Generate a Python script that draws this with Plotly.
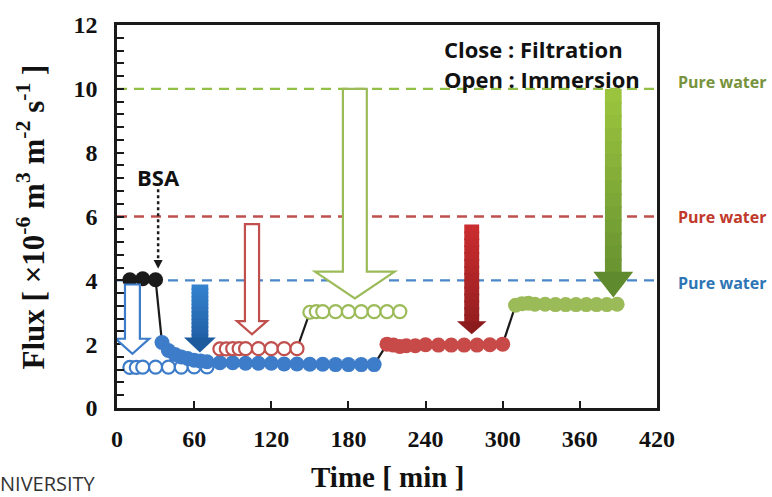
import plotly.graph_objects as go

# ---------------- data ----------------
black_t = [10, 20, 30]
black_f = [4.02, 4.05, 4.02]

blue_open_t = [10, 15, 20, 30, 40, 50, 60, 70]
blue_open_f = [1.27, 1.27, 1.28, 1.28, 1.28, 1.28, 1.29, 1.29]

blue_fill_t = [35, 40, 45, 50, 55, 60, 65, 70, 80, 90, 100, 110, 120, 130, 140, 150, 160, 170, 180, 190, 200]
blue_fill_f = [2.05, 1.8, 1.68, 1.6, 1.55, 1.5, 1.47, 1.45, 1.42, 1.42, 1.40, 1.40, 1.40, 1.38, 1.38, 1.37, 1.37, 1.36, 1.36, 1.36, 1.36]

red_open_t = [80, 85, 90, 95, 100, 110, 120, 130, 140]
red_open_f = [1.85, 1.85, 1.86, 1.86, 1.86, 1.86, 1.86, 1.86, 1.86]

red_fill_t = [210, 215, 220, 225, 232, 240, 250, 260, 270, 280, 290, 300]
red_fill_f = [2.0, 1.97, 1.93, 1.95, 1.95, 1.98, 1.97, 1.97, 1.97, 1.97, 1.98, 2.0]

green_open_t = [150, 155, 160, 170, 180, 190, 200, 210, 220]
green_open_f = [3.0, 3.02, 3.02, 3.02, 3.02, 3.02, 3.02, 3.02, 3.02]

green_fill_t = [310, 315, 320, 325, 333, 341, 349, 357, 365, 373, 381, 389]
green_fill_f = [3.22, 3.27, 3.28, 3.25, 3.25, 3.24, 3.24, 3.24, 3.24, 3.24, 3.24, 3.25]

pure_water_levels = [10, 6, 4]
pure_water_labels = ["Pure water", "Pure water", "Pure water"]

x_ticks = [0, 60, 120, 180, 240, 300, 360, 420]
y_ticks = [0, 2, 4, 6, 8, 10, 12]

# ---------------- styles ----------------
BLUE = "#3D7CC9"
RED = "#C0504D"
GREEN = "#9BBB59"
BLACK = "#1A1A1A"

L, R, T, B = 117, 115, 20, 89
W, H = 772, 497
PW, PH = W - L - R, H - T - B


def px2paper(px, py):
    return (px - L) / PW, (H - B - py) / PH


fig = go.Figure()

# black connecting lines between phases
segs = [
    (black_t[-1], black_f[-1], blue_fill_t[0], blue_fill_f[0]),
    (red_open_t[-1], red_open_f[-1], green_open_t[0], green_open_f[0]),
    (blue_fill_t[-1], blue_fill_f[-1], red_fill_t[0], red_fill_f[0]),
    (red_fill_t[-1], red_fill_f[-1], green_fill_t[0], green_fill_f[0]),
]
cx, cy = [], []
for a, b, c, d in segs:
    cx += [a, c, None]
    cy += [b, d, None]
fig.add_trace(go.Scatter(x=cx, y=cy, mode="lines", line=dict(color=BLACK, width=2.2),
                         hoverinfo="skip", showlegend=False))


def open_trace(t, f, color):
    return go.Scatter(x=t, y=f, mode="markers", showlegend=False,
                      marker=dict(symbol="circle", size=13, color="white",
                                  line=dict(color=color, width=2.2)))


def fill_trace(t, f, color):
    return go.Scatter(x=t, y=f, mode="markers", showlegend=False,
                      marker=dict(symbol="circle", size=15, color=color,
                                  line=dict(width=0)))


fig.add_trace(open_trace(blue_open_t, blue_open_f, BLUE))
fig.add_trace(fill_trace(blue_fill_t, blue_fill_f, BLUE))
fig.add_trace(open_trace(red_open_t, red_open_f, RED))
fig.add_trace(fill_trace(red_fill_t, red_fill_f, "#C84A48"))
fig.add_trace(open_trace(green_open_t, green_open_f, GREEN))
fig.add_trace(fill_trace(green_fill_t, green_fill_f, GREEN))
fig.add_trace(fill_trace(black_t, black_f, BLACK))

shapes = []
# dashed pure-water lines
for lvl, col in zip(pure_water_levels, ["#92C047", "#C0504D", "#4A86C8"]):
    shapes.append(dict(type="line", xref="x", yref="y", x0=0, x1=420, y0=lvl, y1=lvl,
                       line=dict(color=col, width=2.4, dash="10px,7px"), layer="below"))


def arrow_path(cxm, top, hs, tip, sh, hh):
    return (f"M {cxm-sh},{top} L {cxm+sh},{top} L {cxm+sh},{hs} L {cxm+hh},{hs} "
            f"L {cxm},{tip} L {cxm-hh},{hs} L {cxm-sh},{hs} Z")


def hex2rgb(h):
    h = h.lstrip("#")
    return tuple(int(h[i:i + 2], 16) for i in (0, 2, 4))


def lerp(c1, c2, k):
    a, b = hex2rgb(c1), hex2rgb(c2)
    return "rgb(%d,%d,%d)" % tuple(round(a[i] + (b[i] - a[i]) * k) for i in range(3))


# hollow arrows: center, top, head-start, tip, shaft half, head half, color
hollow = [
    (12, 3.87, 2.17, 1.70, 5.8, 13.0, BLUE),
    (105, 5.76, 2.72, 2.31, 5.5, 11.7, RED),
    (185, 10.0, 4.27, 3.43, 9.3, 31.0, GREEN),
]
for cxm, top, hs, tip, sh, hh, col in hollow:
    shapes.append(dict(type="path", xref="x", yref="y", path=arrow_path(cxm, top, hs, tip, sh, hh),
                       fillcolor="white", line=dict(color=col, width=2.2), layer="above"))

# solid gradient arrows
solid = [
    (64.5, 3.87, 2.21, 1.74, 6.5, 12.4, "#3583CF", "#1D5A9E"),
    (275.9, 5.75, 2.72, 2.31, 5.8, 11.5, "#CC2E30", "#8C1B1D"),
    (386.0, 10.0, 4.27, 3.46, 6.5, 15.5, "#9DC63F", "#5F8A2E"),
]
N = 14
for cxm, top, hs, tip, sh, hh, c1, c2 in solid:
    for i in range(N):
        y0 = top - (top - hs) * i / N
        y1 = top - (top - hs) * (i + 1) / N
        shapes.append(dict(type="rect", xref="x", yref="y", x0=cxm - sh, x1=cxm + sh,
                           y0=y1 - 0.06, y1=y0, fillcolor=lerp(c1, c2, (i + 0.5) / N * 0.85),
                           line=dict(width=0), layer="above"))
    shapes.append(dict(type="path", xref="x", yref="y",
                       path=f"M {cxm-hh},{hs} L {cxm+hh},{hs} L {cxm},{tip} Z",
                       fillcolor=c2, line=dict(width=0), layer="above"))

# BSA dotted arrow
shapes.append(dict(type="line", xref="x", yref="y", x0=32, x1=32, y0=6.85, y1=4.62,
                   line=dict(color=BLACK, width=2.5, dash="dot"), layer="above"))
shapes.append(dict(type="path", xref="x", yref="y", path="M 28.5,4.64 L 35.5,4.64 L 32,4.36 Z",
                   fillcolor=BLACK, line=dict(width=0), layer="above"))

annotations = []
SANS = "Open Sans"
SERIF = "Liberation Serif"

# pure water labels
for lvl, lab, col, py in zip(pure_water_levels, pure_water_labels,
                             ["#77933C", "#C0392B", "#2E75B6"], [78, 214, 281]):
    xp, yp = px2paper(722, py)
    annotations.append(dict(xref="paper", yref="paper", x=xp, y=yp, text=lab, showarrow=False,
                            xanchor="center", yanchor="middle",
                            font=dict(family=SANS, size=16, color=col, weight="bold")))

for txt, py in [("Close : Filtration", 44), ("Open : Immersion", 75)]:
    xp, yp = px2paper(442, py)
    annotations.append(dict(xref="paper", yref="paper", x=xp, y=yp, text=txt, showarrow=False,
                            xanchor="left", yanchor="middle",
                            font=dict(family=SANS, size=22, color="#111", weight="bold")))

xp, yp = px2paper(158, 174)
annotations.append(dict(xref="paper", yref="paper", x=xp, y=yp, text="BSA", showarrow=False,
                        xanchor="center", yanchor="middle",
                        font=dict(family=SANS, size=22, color="#111", weight="bold")))

xp, yp = px2paper(387, 478)
annotations.append(dict(xref="paper", yref="paper", x=xp, y=yp, text="Time [ min ]", showarrow=False,
                        xanchor="center", yanchor="middle",
                        font=dict(family=SERIF, size=29, color="#111", weight="bold")))

xp, yp = px2paper(31, 215)
annotations.append(dict(xref="paper", yref="paper", x=xp, y=yp, textangle=-90,
                        text="Flux [ ×10<sup>-6</sup> m<sup>3</sup> m<sup>-2</sup> s<sup>-1</sup> ]",
                        showarrow=False, xanchor="center", yanchor="middle",
                        font=dict(family=SERIF, size=31, color="#111", weight="bold")))

xp, yp = px2paper(-2, 484)
annotations.append(dict(xref="paper", yref="paper", x=xp, y=yp, text="NIVERSITY", showarrow=False,
                        xanchor="left", yanchor="middle",
                        font=dict(family=SANS, size=20, color="#333")))

axis_common = dict(showgrid=False, zeroline=False, showline=True, linecolor="#1A1A1A",
                   linewidth=2.5, mirror=True, ticks="inside", ticklen=7, tickwidth=1.5,
                   tickcolor="#1A1A1A",
                   tickfont=dict(family=SERIF, size=24, color="#111", weight="bold"))

fig.update_layout(
    width=W, height=H, margin=dict(l=L, r=R, t=T, b=B),
    paper_bgcolor="white", plot_bgcolor="white",
    xaxis=dict(range=[0, 420], tickmode="array", tickvals=x_ticks,
               ticktext=[str(v) for v in x_ticks], ticklabelstandoff=7, **axis_common),
    yaxis=dict(range=[0, 12], tickmode="array", tickvals=y_ticks,
               ticktext=[str(v) for v in y_ticks], ticklabelstandoff=12,
               minor=dict(dtick=0.4, ticks="inside", ticklen=7, tickwidth=1.5, tickcolor="#1A1A1A"),
               **axis_common),
    shapes=shapes, annotations=annotations, showlegend=False,
)

fig.write_html("out.html")
